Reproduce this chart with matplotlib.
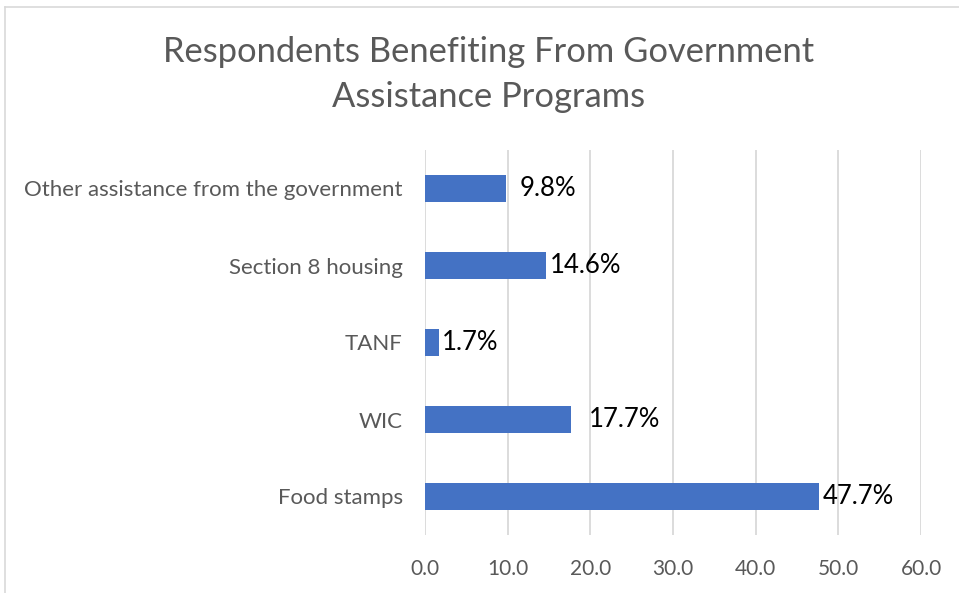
import matplotlib.pyplot as plt
from matplotlib.lines import Line2D

# program names (bottom to top) and share of respondents
programs = ['Food stamps', 'WIC', 'TANF', 'Section 8 housing',
            'Other assistance from the government']
shares = [47.7, 17.7, 1.7, 14.6, 9.8]
label_pad = [3, 18, 3, 4, 14]  # pixel gap between bar end and its label
x_ticks = [0, 10, 20, 30, 40, 50, 60]

plt.rcParams['font.family'] = ['Lato', 'DejaVu Sans']
grey = '#595959'
blue = '#4472C4'

fig = plt.figure(figsize=(9.59, 5.93), dpi=100)
ax = fig.add_axes([425 / 959, 1 - 535 / 593, 496 / 959, 385 / 593])

ypos = list(range(len(programs)))
ax.barh(ypos, shares, height=0.35, color=blue, zorder=3)

for y, v, pad in zip(ypos, shares, label_pad):
    ax.annotate(f'{v:.1f}%', (v, y), xytext=(pad * 0.72, 0),
                textcoords='offset points', va='center', ha='left',
                fontsize=18.5, color='black')

ax.set_xlim(0, 60)
ax.set_ylim(-0.5, len(programs) - 0.5)
ax.set_xticks(x_ticks)
ax.set_xticklabels([f'{t:.1f}' for t in x_ticks], fontsize=15, color=grey)
ax.set_yticks(ypos)
ax.set_yticklabels(programs, fontsize=16, color=grey)
ax.tick_params(length=0, pad=16, axis='y')
ax.tick_params(length=0, pad=17, axis='x')
ax.xaxis.grid(True, color='#D9D9D9', linewidth=1.3, zorder=0)
for s in ax.spines.values():
    s.set_visible(False)

fig.text(489 / 959, 1 - 52 / 593, 'Respondents Benefiting From Government',
         ha='center', va='center', fontsize=24.8, color=grey)
fig.text(489 / 959, 1 - 97 / 593, 'Assistance Programs',
         ha='center', va='center', fontsize=24.8, color=grey)

# chart area border (left and top edges only are in view)
fig.add_artist(Line2D([5 / 959, 5 / 959], [0, 1 - 7 / 593],
                      color='#D9D9D9', linewidth=1.2))
fig.add_artist(Line2D([5 / 959, 1], [1 - 7 / 593, 1 - 7 / 593],
                      color='#D9D9D9', linewidth=1.2))

fig.savefig('out.png', dpi=100)
